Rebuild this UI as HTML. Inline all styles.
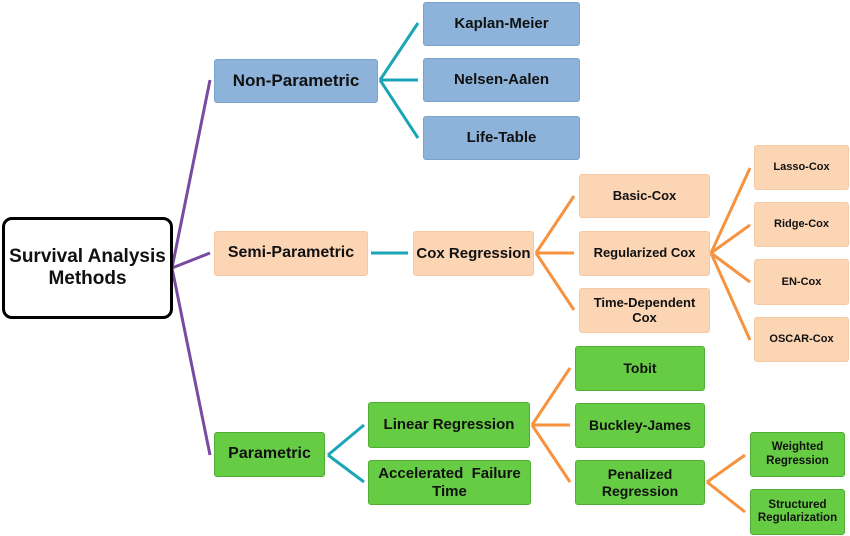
<!DOCTYPE html>
<html><head><meta charset="utf-8"><style>
body{margin:0;width:850px;height:536px;background:#fff;position:relative;overflow:hidden;font-family:"Liberation Sans",sans-serif;}
.b{position:absolute;display:flex;align-items:center;justify-content:center;text-align:center;font-weight:bold;color:#111;border-radius:3px;box-sizing:border-box;line-height:1.15;}
.bl{background:#8db3da;border:1px solid #7aa3cc;}
.or{background:#fcd5b5;border:1px solid #f6c9a4;}
.gr{background:#66cc44;border:1px solid #4fae33;}
svg{position:absolute;left:0;top:0;}
</style></head><body>
<svg width="850" height="536">
<g stroke="#7a4a9e" stroke-width="3" fill="none">
<line x1="172" y1="268" x2="210" y2="80"/><line x1="172" y1="268" x2="210" y2="253"/><line x1="172" y1="268" x2="210" y2="455"/>
</g>
<g stroke="#1aa6b7" stroke-width="3" fill="none">
<line x1="380" y1="80" x2="418" y2="23"/><line x1="380" y1="80" x2="418" y2="80"/><line x1="380" y1="80" x2="418" y2="138"/>
<line x1="371" y1="253" x2="408" y2="253"/>
<line x1="328" y1="455" x2="364" y2="425"/><line x1="328" y1="455" x2="364" y2="482"/>
</g>
<g stroke="#f7923e" stroke-width="3" fill="none">
<line x1="536" y1="253" x2="574" y2="196"/><line x1="536" y1="253" x2="574" y2="253"/><line x1="536" y1="253" x2="574" y2="310"/>
<line x1="711" y1="253" x2="750" y2="168"/><line x1="711" y1="253" x2="750" y2="225"/><line x1="711" y1="253" x2="750" y2="282"/><line x1="711" y1="253" x2="750" y2="340"/>
<line x1="532" y1="425" x2="570" y2="368"/><line x1="532" y1="425" x2="570" y2="425"/><line x1="532" y1="425" x2="570" y2="482"/>
<line x1="707" y1="482" x2="745" y2="455"/><line x1="707" y1="482" x2="745" y2="512"/>
</g>
</svg>
<div class="b" style="left:2px;top:217px;width:171px;height:102px;border:3px solid #000;border-radius:10px;font-size:19px;background:#fff">Survival Analysis<br>Methods</div>
<div class="b bl" style="left:214px;top:59px;width:164px;height:44px;font-size:17px">Non-Parametric</div>
<div class="b bl" style="left:423px;top:2px;width:157px;height:44px;font-size:15px">Kaplan-Meier</div>
<div class="b bl" style="left:423px;top:58px;width:157px;height:44px;font-size:15px">Nelsen-Aalen</div>
<div class="b bl" style="left:423px;top:116px;width:157px;height:44px;font-size:15px">Life-Table</div>
<div class="b or" style="left:214px;top:231px;width:154px;height:45px;font-size:16px">Semi-Parametric</div>
<div class="b or" style="left:413px;top:231px;width:121px;height:45px;font-size:15px">Cox Regression</div>
<div class="b or" style="left:579px;top:174px;width:131px;height:44px;font-size:13px">Basic-Cox</div>
<div class="b or" style="left:579px;top:231px;width:131px;height:45px;font-size:13px">Regularized Cox</div>
<div class="b or" style="left:579px;top:288px;width:131px;height:45px;font-size:13px">Time-Dependent<br>Cox</div>
<div class="b or" style="left:754px;top:145px;width:95px;height:45px;font-size:11px">Lasso-Cox</div>
<div class="b or" style="left:754px;top:202px;width:95px;height:45px;font-size:11px">Ridge-Cox</div>
<div class="b or" style="left:754px;top:259px;width:95px;height:46px;font-size:11px">EN-Cox</div>
<div class="b or" style="left:754px;top:317px;width:95px;height:45px;font-size:11px">OSCAR-Cox</div>
<div class="b gr" style="left:214px;top:432px;width:111px;height:45px;font-size:16px">Parametric</div>
<div class="b gr" style="left:368px;top:402px;width:162px;height:46px;font-size:15px">Linear Regression</div>
<div class="b gr" style="left:368px;top:460px;width:163px;height:45px;font-size:15px">Accelerated&nbsp; Failure<br>Time</div>
<div class="b gr" style="left:575px;top:346px;width:130px;height:45px;font-size:14px">Tobit</div>
<div class="b gr" style="left:575px;top:403px;width:130px;height:45px;font-size:14px">Buckley-James</div>
<div class="b gr" style="left:575px;top:460px;width:130px;height:45px;font-size:14px">Penalized<br>Regression</div>
<div class="b gr" style="left:750px;top:432px;width:95px;height:45px;font-size:11.5px">Weighted<br>Regression</div>
<div class="b gr" style="left:750px;top:489px;width:95px;height:46px;font-size:11.5px">Structured<br>Regularization</div>
</body></html>
